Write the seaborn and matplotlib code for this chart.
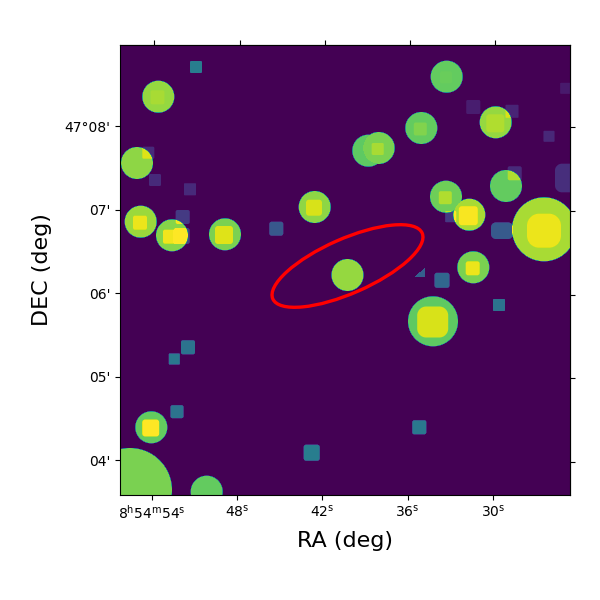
import numpy as np
import seaborn as sns
import matplotlib
matplotlib.use("Agg")
import matplotlib.pyplot as plt
from matplotlib.patches import Ellipse
from matplotlib.path import Path

# Image-plane sources (cutout pixel coordinates)
circle_x = [38.3, 17, 20.7, 52, 105, 194.7, 227.5, 326.7, 301.3, 258.7, 248.3, 375.7, 386, 326, 349.3, 353.3, 424, 313, 31.3, 10, 86.7]
circle_y = [51.7, 118, 176.7, 190.3, 189.3, 162, 230, 31.7, 83, 103, 105.7, 77.3, 141, 151.7, 169.7, 222.3, 184.3, 276.3, 382.3, 445, 446.7]
circle_r = [16, 16, 16, 16, 16, 16, 16, 16, 16, 16, 16, 16, 16, 16, 16, 16, 32, 25, 16, 42, 16]
circle_v = [.84, .83, .85, .82, .80, .83, .84, .76, .76, .80, .75, .84, .76, .78, .87, .80, .87, .75, .76, .80, .76]

box_x = [37.5, 20, 50, 61.7, 104, 194, 326, 300.3, 257.7, 375.3, 325.3, 348.3, 352.7, 424, 312.7, 30.7,
         28.3, 35, 70, 62.7, 76, 156.3, 353.3, 392, 445.7, 429, 394.7, 330.7, 450, 382, 322, 379, 299.3, 68, 54.3, 57, 191.7]
box_y = [52.3, 177.7, 191.7, 191, 190, 162.7, 32.3, 84, 104, 78.3, 152.7, 170.7, 223.3, 185.7, 277, 383,
         107.7, 135, 144.3, 172, 22, 183.7, 62, 66.3, 43.3, 91.3, 128.3, 171.7, 133, 185.7, 235.3, 260, 382.3, 302.3, 314, 366.7, 407.7]
box_hx = [7, 7, 7, 8, 9, 8, 6, 6.5, 6, 9, 6.5, 9.5, 7, 17, 15.5, 8.5,
          6, 6, 6, 7, 6, 7, 7, 6.5, 5.5, 5.5, 7, 5.5, 15, 11, 7.5, 6, 7, 7, 5.5, 6.5, 8]
box_hy = [7, 7, 7, 8, 9, 8, 6, 6.5, 6, 9, 6.5, 9.5, 7, 17, 15.5, 8.5,
          6, 6, 6, 7, 6, 7, 7, 6.5, 5.5, 5.5, 7, 5.5, 14.3, 8.3, 7.5, 6, 7, 7, 5.5, 6.5, 8]
box_c = [2, 2, 2, 2.5, 3, 3, 2, 2, 1.5, 3, 2, 3, 2.5, 12, 9, 3,
         1.5, 1.5, 1, 2, 1.5, 2.5, 1.5, 1, 1, 1, 2, 1, 7, 5, 2.5, 1, 2, 2, 1, 2, 2.5]
box_v = [.03, .12, .16, .20, .15, .11, .01, .05, .07, .04, .10, .12, .17, .10, .19, .24,
         .12, .12, .12, .17, .42, .27, .08, .10, .07, .11, .12, .17, .13, .28, .33, .38, .40, .38, .40, .38, .42]

wedge_x = [294, 305, 305]
wedge_y = [232.3, 222.7, 232.3]
wedge_v = 0.30

ra_seconds = [54, 48, 42, 36, 30]
ra_labels = [r"$8^{\mathrm{h}}54^{\mathrm{m}}54^{\mathrm{s}}$", r"$48^{\mathrm{s}}$", r"$42^{\mathrm{s}}$",
             r"$36^{\mathrm{s}}$", r"$30^{\mathrm{s}}$"]
dec_minutes = [8, 7, 6, 5, 4]
dec_labels = ["47°08'", "07'", "06'", "05'", "04'"]

ell_center = (227.5, 221)
ell_width, ell_height, ell_angle = 163.2, 54.5, -23.8

# Build the image
n = 450
px, py = np.meshgrid(np.arange(n) + 0.5, np.arange(n) + 0.5)
disc = np.zeros((n, n))
for x, y, r, v in zip(circle_x, circle_y, circle_r, circle_v):
    d = np.hypot(px - x, py - y) - r
    disc = np.maximum(disc, v * np.clip(0.5 - d, 0, 1))
boxes = np.zeros((n, n))
for x, y, hx, hy, c, v in zip(box_x, box_y, box_hx, box_hy, box_c, box_v):
    qx = np.maximum(np.abs(px - x) - hx + c, 0)
    qy = np.maximum(np.abs(py - y) - hy + c, 0)
    d = np.hypot(qx, qy) - c
    boxes += v * np.clip(0.5 - d, 0, 1)
pts = np.column_stack([px.ravel(), py.ravel()])
wedge = Path(np.column_stack([wedge_x, wedge_y])).contains_points(pts).reshape(n, n)
boxes += wedge_v * wedge
img = np.clip(disc + boxes, 0, 1)

fig = plt.figure(figsize=(6, 6), dpi=100)
ax = fig.add_axes([0.2, 0.175, 0.75, 0.75])
sns.heatmap(img, cmap="viridis", vmin=0, vmax=1, cbar=False, ax=ax,
            xticklabels=False, yticklabels=False, rasterized=True)
ax.add_patch(Ellipse(ell_center, ell_width, ell_height, angle=ell_angle,
                     fill=False, edgecolor="red", linewidth=2.4))
for s in ax.spines.values():
    s.set_visible(True)
    s.set_linewidth(0.8)
    s.set_color("black")

# The sky grid is slightly rotated, so opposite edges carry offset ticks
ax.set_xticks([32 + (54 - s) * 14.2 for s in ra_seconds])
ax.set_xticklabels(ra_labels, rotation=0)
ax.set_yticks([81.3 + (8 - m) * 83.5 for m in dec_minutes])
ax.set_yticklabels(dec_labels, rotation=0)
ax.tick_params(top=False, right=False, bottom=True, left=True, direction="out",
               length=3.5, width=0.8, labelsize=10)
ax.tick_params(axis="x", pad=2.5)

top = ax.secondary_xaxis("top")
top.set_xticks([34.3 + (54 - s) * 14.2 for s in ra_seconds])
top.set_xticklabels([])
top.tick_params(direction="out", length=3.5, width=0.8)
right = ax.secondary_yaxis("right")
right.set_yticks([82.3 + (8 - m) * 83.6 for m in dec_minutes])
right.set_yticklabels([])
right.tick_params(direction="out", length=3.5, width=0.8)

ax.set_xlabel("RA (deg)", fontsize=16, labelpad=7)
ax.set_ylabel("DEC (deg)", fontsize=16, labelpad=9)
fig.savefig("out.png", dpi=100)
